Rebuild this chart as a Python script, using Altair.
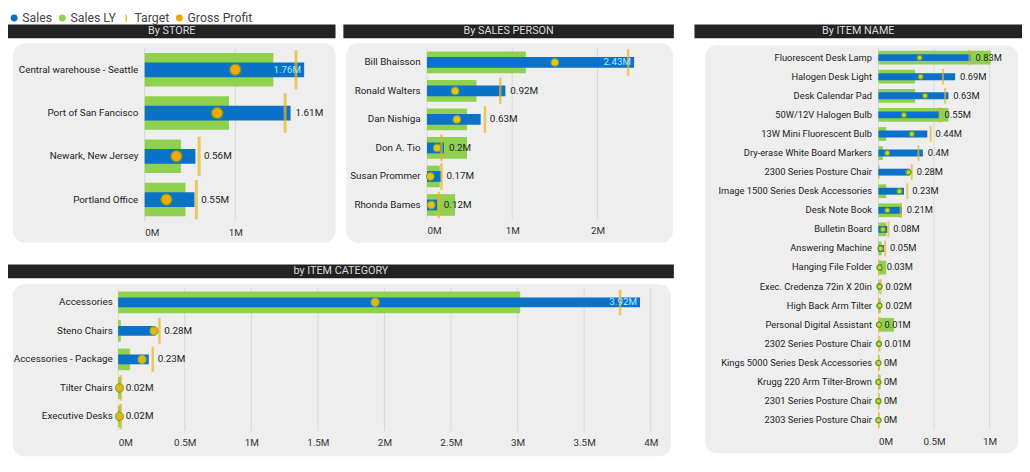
import altair as alt
import pandas as pd

FONT = "Roboto"

legend_series = ["Sales", "Sales LY", "Target", "Gross Profit"]
legend_colors = ["#0a72c9", "#8fd14f", "#f0c020", "#f0a800"]
legend_shapes = ["circle", "circle", "M-0.22,-1H0.22V1H-0.22Z", "circle"]

store_names = ["Central warehouse - Seattle", "Port of San Fancisco", "Newark, New Jersey", "Portland Office"]
store_sales = [1.76, 1.61, 0.56, 0.55]
store_ly = [1.42, 0.93, 0.40, 0.45]
store_target = [1.67, 1.55, 0.60, 0.57]
store_gp = [1.00, 0.80, 0.35, 0.24]

person_names = ["Bill Bhaisson", "Ronald Walters", "Dan Nishiga", "Don A. Tio", "Susan Prommer", "Rhonda Bames"]
person_sales = [2.43, 0.92, 0.63, 0.20, 0.17, 0.12]
person_ly = [1.16, 0.58, 0.47, 0.47, 0.15, 0.33]
person_target = [2.36, 0.86, 0.68, 0.17, 0.17, 0.14]
person_gp = [1.50, 0.33, 0.35, 0.12, 0.04, 0.05]

cat_names = ["Accessories", "Steno Chairs", "Accessories - Package", "Tilter Chairs", "Executive Desks"]
cat_sales = [3.92, 0.28, 0.23, 0.02, 0.02]
cat_ly = [3.02, 0.02, 0.09, 0.02, 0.02]
cat_target = [3.77, 0.31, 0.26, 0.02, 0.02]
cat_gp = [1.93, 0.27, 0.18, 0.01, 0.01]

item_names = [
    "Fluorescent Desk Lamp", "Halogen Desk Light", "Desk Calendar Pad", "50W/12V Halogen Bulb",
    "13W Mini Fluorescent Bulb", "Dry-erase White Board Markers", "2300 Series Posture Chair",
    "Image 1500 Series Desk Accessories", "Desk Note Book", "Bulletin Board", "Answering Machine",
    "Hanging File Folder", "Exec. Credenza 72in X 20in", "High Back Arm Tilter",
    "Personal Digital Assistant", "2302 Series Posture Chair", "Kings 5000 Series Desk Accessories",
    "Krugg 220 Arm Tilter-Brown", "2301 Series Posture Chair", "2303 Series Posture Chair",
]
item_sales = [0.83, 0.69, 0.63, 0.55, 0.44, 0.40, 0.28, 0.23, 0.21, 0.08, 0.05, 0.03, 0.02, 0.02, 0.01, 0.01, 0.0, 0.0, 0.0, 0.0]
item_ly = [1.01, 0.33, 0.33, 0.63, 0.07, 0.04, 0.01, 0.07, 0.21, 0.07, 0.03, 0.07, 0.01, 0.02, 0.14, 0.0, 0.01, 0.02, 0.0, 0.0]
item_target = [0.82, 0.58, 0.60, 0.55, 0.47, 0.36, 0.30, 0.26, 0.20, 0.09, 0.06, 0.01, 0.02, 0.01, 0.01, 0.01, 0.005, 0.005, 0.005, 0.005]
item_gp = [0.37, 0.38, 0.42, 0.23, 0.30, 0.08, 0.27, 0.19, 0.08, 0.04, 0.02, 0.01, 0.01, 0.01, 0.005, 0.005, 0.0, 0.0, 0.0, 0.0]


def panel(names, sales, ly, target, gp, title, W, H, dmax, ticks, bg, hdr,
          lyh, sh, th, tt, gps, gpfill, gpstroke, lfs, vfs, xoff=0, lpad=7, legend=False):
    pxm = W / dmax
    lx = [max(s, t) for s, t in zip(sales, target)]
    labs = [(f"{s:.2f}".rstrip("0").rstrip(".") or "0") + "M" for s in sales]
    inside = [v + 25.0 / pxm > dmax for v in lx]
    df = pd.DataFrame({"cat": names, "sales": sales, "ly": ly, "target": target,
                       "gp": gp, "lx": lx, "lab": labs, "inside": inside})

    PW = W - xoff
    xscale = alt.Scale(domain=[0, dmax], range=[-xoff, PW], nice=False, zero=True)
    xaxis = alt.Axis(values=ticks, labelExpr="datum.value + 'M'", grid=False, domain=False,
                     ticks=False, labelPadding=7, labelFontSize=10, labelColor="#333333",
                     labelFont=FONT, title=None, zindex=1)
    yaxis = alt.Axis(domain=False, ticks=False, labelPadding=lpad, labelFontSize=lfs, offset=xoff,
                     labelColor="#222222", labelFont=FONT, title=None, zindex=1, labelLimit=260)
    yscale = alt.Scale(paddingInner=0, paddingOuter=0)

    def X(f):
        return alt.X(f"{f}:Q", scale=xscale, axis=xaxis)

    Y = alt.Y("cat:N", sort=names, scale=yscale, axis=yaxis)

    x_left = -xoff
    one = pd.DataFrame({"k": [0]})
    bgl = alt.Chart(one).mark_rect(color="#eeeeee", cornerRadius=12).encode(
        x=alt.value(x_left - bg[0]), x2=alt.value(PW + bg[1]), y=alt.value(-bg[2]), y2=alt.value(H + bg[3]))
    hdl = alt.Chart(one).mark_rect(color="#222222").encode(
        x=alt.value(x_left - hdr[0]), x2=alt.value(PW + hdr[1]), y=alt.value(-hdr[2]), y2=alt.value(-hdr[3]))
    htx = alt.Chart(one).mark_text(color="#dddddd", fontSize=11, font=FONT).encode(
        x=alt.value((x_left - hdr[0] + PW + hdr[1]) / 2), y=alt.value(-(hdr[2] + hdr[3]) / 2),
        text=alt.value(title))
    grid = alt.Chart(pd.DataFrame({"v": ticks})).mark_rule(color="#d8d8d8", strokeWidth=1).encode(
        x=X("v"), y=alt.value(0), y2=alt.value(H))

    base = alt.Chart(df)
    lyb = base.mark_bar(color="#8fd14f", size=lyh).encode(x=X("ly"), y=Y)
    sb = base.mark_bar(color="#0a72c9", size=sh).encode(x=X("sales"), y=Y)
    tk = base.mark_tick(color="#eab51c", thickness=tt, size=th).encode(x=X("target"), y=Y)
    gpm = base.mark_point(shape="circle", filled=True, fill=gpfill, stroke=gpstroke,
                          strokeWidth=1.3, size=gps, opacity=1).encode(x=X("gp"), y=Y)
    out = base.transform_filter("!datum.inside").mark_text(
        align="left", dx=5, fontSize=vfs, color="#222222", font=FONT).encode(
        x=X("lx"), y=Y, text="lab:N")
    ins = base.transform_filter("datum.inside").mark_text(
        align="right", dx=-3, fontSize=vfs, color="#a8ecff", font=FONT).encode(
        x=X("sales"), y=Y, text="lab:N")

    layers = [bgl, hdl, htx, grid, lyb, sb, tk, gpm, out, ins]
    if legend:
        lg = alt.Legend(title=None, orient="none", legendX=-hdr[0], legendY=-hdr[2] - 13,
                        direction="horizontal", symbolSize=50, labelFontSize=12.5, labelFont=FONT,
                        labelColor="#444444", columnPadding=4, labelOffset=2, symbolStrokeWidth=0)
        ldf = pd.DataFrame({"series": legend_series, "cat": names[0], "v": 0.0})
        leg = alt.Chart(ldf).transform_filter("false").mark_point(filled=True, opacity=1).encode(
            x=X("v"), y=Y,
            color=alt.Color("series:N", scale=alt.Scale(domain=legend_series, range=legend_colors), legend=lg),
            shape=alt.Shape("series:N", scale=alt.Scale(domain=legend_series, range=legend_shapes), legend=lg))
        layers.append(leg)
    return alt.layer(*layers).properties(width=PW, height=H)


store = panel(store_names, store_sales, store_ly, store_target, store_gp, "By STORE",
              175, 176, 1.9, [0, 1], (134, 19, 5, 22), (139, 19, 24, 10),
              34, 15, 40, 3, 130, "#f5a800", "#5f9a2d", 10, 10, legend=True)
person = panel(person_names, person_sales, person_ly, person_target, person_gp, "By SALES PERSON",
               234, 174, 2.7, [0, 1, 2], (82, 16, 5, 24), (85, 17, 24, 10),
               22, 11, 27, 2.5, 60, "#e6c21c", "#7aa830", 10, 10)
category = panel(cat_names, cat_sales, cat_ly, cat_target, cat_gp, "by ITEM CATEGORY",
                 555, 145, 4.1, [0, 0.5, 1, 1.5, 2, 2.5, 3, 3.5, 4], (107, 7, 4, 26), (112, 10, 24, 10),
                 22, 10, 26, 2.5, 65, "#f2b00a", "#8ab83a", 10, 10, xoff=27, lpad=6)
item = panel(item_names, item_sales, item_ly, item_target, item_gp, "By ITEM NAME",
             130, 388, 1.15, [0, 0.5, 1], (176, 12, 3, 24), (187, 16, 24, 10),
             14, 7, 16, 2, 28, "#cbd430", "#5b9a2c", 9.5, 9.5)

row1 = alt.concat(store, person, columns=2, spacing=8)
left = alt.concat(row1, category, columns=1, spacing=22)
chart = alt.concat(left, item, columns=2, spacing=4).properties(
    padding=0, background="white"
).configure_view(stroke=None)

chart.save("out.html", embed_options={"renderer": "svg", "actions": False})
